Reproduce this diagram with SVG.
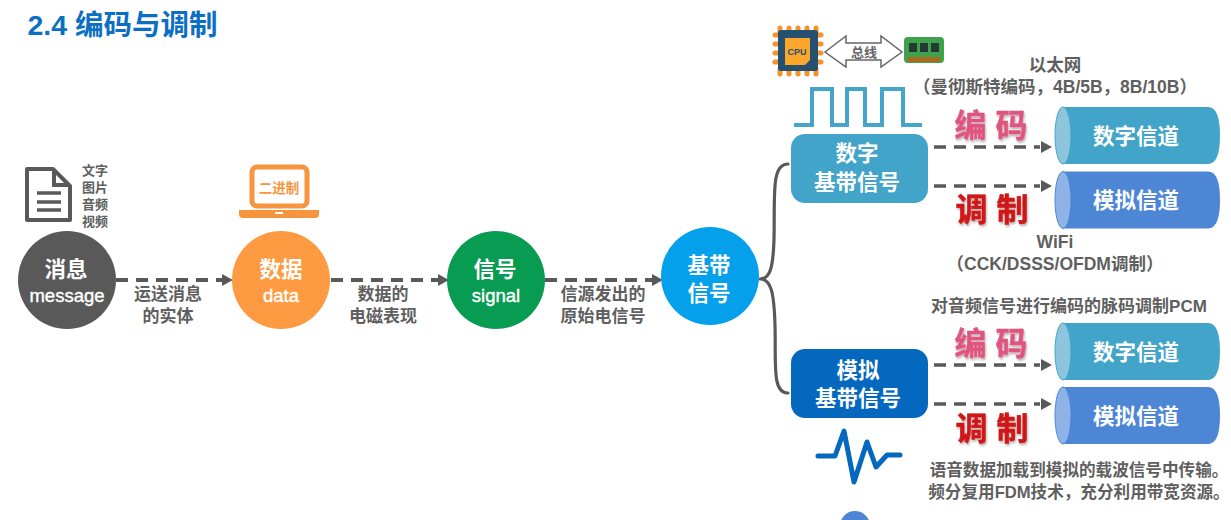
<svg xmlns="http://www.w3.org/2000/svg" width="1231" height="520" viewBox="0 0 1231 520">
<style>
text{font-family:"Liberation Sans","Noto Sans CJK SC",sans-serif;text-anchor:middle;font-weight:700}
.cap{fill:#5f5f5f;font-size:17px}
.note{fill:#5f5f5f;font-size:17.5px}
.note2{fill:#5f5f5f;font-size:17px}
.note3{fill:#5f5f5f;font-size:16.6px}
.small{fill:#5f5f5f;font-size:13px}
.w22{fill:#fff;font-size:21.5px}
.latin{fill:#fff;font-size:18.5px;font-weight:400;stroke:#fff;stroke-width:.4}
.flow{fill:none;stroke:#595959;stroke-width:4;stroke-dasharray:12 8}
.branch{fill:none;stroke:#595959;stroke-width:3.2;stroke-linecap:round}
.enc{fill:#e0557f;font-size:32px;font-weight:700;stroke:#e0557f;stroke-width:.5}
.mod{fill:#d01515;font-size:32px;font-weight:700;stroke:#d01515;stroke-width:.5}
.hd{fill:#595959}
</style>
<defs>
<filter id="soft" x="-10%" y="-10%" width="125%" height="130%"><feDropShadow dx="1" dy="2" stdDeviation="1.2" flood-color="#000" flood-opacity=".3"/></filter>
<path id="tube" d="M1063 0H1208Q1220 0 1220 28.500Q1220 57 1208 57H1063Z"/>
</defs>
<rect width="1231" height="520" fill="#fff"/>
<text x="122.500" y="35" style="font-size:28.500px;fill:#0b6fc4">2.4 编码与调制</text>

<g id="connectors">
<path class="flow" d="M116 280H222M331 280H438M545 280H652"/>
<path class="hd" d="M222 274l11 6-11 6zM438 274l11 6-11 6zM652 274l11 6-11 6z"/>
<path class="branch" d="M760 279C770 279 773 268 774 240C775 195 771 164 788 164M760 279C771 279 774 292 775 325C776 365 772 393 788 393"/>
<path class="flow" style="stroke-width:3.500" d="M934 147H1040M934 186H1040M934 365H1040M934 404H1040"/>
<path class="hd" d="M1041 141l11 6-11 6zM1041 180l11 6-11 6zM1041 359l11 6-11 6zM1041 398l11 6-11 6z"/>
</g>

<g id="doc-icon">
<path d="M27 169H53L70 186V220H27Z" fill="#fff" stroke="#595959" stroke-width="4" stroke-linejoin="round"/>
<path d="M54 170V185H69" fill="none" stroke="#595959" stroke-width="4"/>
<path d="M37 193H61M37 202H61M37 210H61" stroke="#595959" stroke-width="3.500"/>
</g>
<g id="media-list">
<text class="small" x="95" y="175">文字</text>
<text class="small" x="95" y="192">图片</text>
<text class="small" x="95" y="209">音频</text>
<text class="small" x="95" y="226">视频</text>
</g>
<g id="node-message">
<circle cx="67" cy="280" r="49" fill="#595959"/>
<text class="w22" x="66" y="277">消息</text>
<text class="latin" x="67" y="302">message</text>
</g>
<g id="laptop-icon">
<rect x="252" y="167" width="55" height="39" rx="5" fill="#fff" stroke="#f7943e" stroke-width="5"/>
<path d="M239 210H319V214Q319 218 315 218H243Q239 218 239 214Z" fill="#f7943e"/>
<rect x="275" y="212" width="8" height="2" fill="#fff"/>
<text x="279" y="193" style="font-size:13.500px;fill:#f7943e">二进制</text>
</g>
<g id="node-data">
<circle cx="281" cy="280" r="49" fill="#fe9a41"/>
<text class="w22" x="281" y="277">数据</text>
<text class="latin" x="281" y="302">data</text>
</g>
<g id="node-signal">
<circle cx="496" cy="280" r="49" fill="#089b52"/>
<text class="w22" x="495" y="277">信号</text>
<text class="latin" x="496" y="302">signal</text>
</g>
<g id="node-baseband">
<circle cx="710" cy="276" r="49" fill="#05a0ec"/>
<text class="w22" x="709" y="273">基带</text>
<text class="w22" x="709" y="301">信号</text>
</g>
<g id="flow-labels">
<text class="cap" x="168" y="300">运送消息</text>
<text class="cap" x="168" y="322">的实体</text>
<text class="cap" x="383" y="300">数据的</text>
<text class="cap" x="383" y="322">电磁表现</text>
<text class="cap" x="603" y="300">信源发出的</text>
<text class="cap" x="603" y="322">原始电信号</text>
</g>

<g id="bus-icons">
<path d="M780 28v5M789 28v5M798 28v5M807 28v5M816 28v5M780 69v5M789 69v5M798 69v5M807 69v5M816 69v5M775 35h5M775 44h5M775 53h5M775 62h5M816 35h5M816 44h5M816 53h5M816 62h5" stroke="#f5932a" stroke-width="5" stroke-linecap="round"/>
<rect x="778" y="30" width="40" height="41" rx="3" fill="#25506f"/>
<path d="M785 38H810V60L805 65H785Z" fill="#fca62c"/>
<text x="797" y="55" style="font-size:9px;fill:#25506f">CPU</text>
<path d="M825 52L846 36V43H881V36L902 52L881 67V60H846V67Z" fill="#fff" stroke="#666" stroke-width="1.500"/>
<text x="864" y="57" style="font-size:13px;fill:#666">总线</text>
<rect x="904" y="37" width="40" height="26" rx="4" fill="#3fa34d"/>
<path d="M909 43h8v9h-8zM920 43h8v9h-8zM931 43h8v9h-8z" fill="#263a33"/>
<path d="M908 57H940V62H908Z" fill="#a86c20"/>
</g>
<g id="square-wave">
<path d="M794 125H812V89H832V125H847V89H865V125H882V89H903V125H922" fill="none" stroke="#45a4ca" stroke-width="4"/>
</g>
<g id="node-digital-baseband">
<rect x="791" y="134" width="137" height="69" rx="14" fill="#42a4c9"/>
<text class="w22" x="857" y="161">数字</text>
<text class="w22" x="857" y="190">基带信号</text>
</g>
<g id="node-analog-baseband">
<rect x="791" y="349" width="137" height="69" rx="14" fill="#0568bf"/>
<text class="w22" x="858" y="378">模拟</text>
<text class="w22" x="858" y="406">基带信号</text>
</g>
<g id="analog-wave">
<path d="M818 456H835L844 431L854 482L867 442L876 467L887 455H900" fill="none" stroke="#0568bf" stroke-width="5" stroke-linejoin="round" stroke-linecap="round"/>
</g>

<g id="top-notes">
<text class="note" x="1055" y="71">以太网</text>
<text class="note" x="1055" y="93">（曼彻斯特编码，4B/5B，8B/10B）</text>
<text class="enc" x="991" y="137" filter="url(#soft)">编 码</text>
<text class="mod" x="992" y="221" filter="url(#soft)">调 制</text>
<text class="note" x="1055" y="248">WiFi</text>
<text class="note" x="1055" y="270">（CCK/DSSS/OFDM调制）</text>
</g>
<g id="bottom-notes">
<text class="note2" x="1069" y="312">对音频信号进行编码的脉码调制PCM</text>
<text class="enc" x="991" y="355" filter="url(#soft)">编 码</text>
<text class="mod" x="992" y="440" filter="url(#soft)">调 制</text>
<text class="note3" x="1079" y="476">语音数据加载到模拟的载波信号中传输。</text>
<text class="note3" x="1079" y="498">频分复用FDM技术，充分利用带宽资源。</text>
</g>

<g id="channel-digital-top">
<use href="#tube" y="107" fill="#42a4c9"/>
<ellipse cx="1063" cy="135.500" rx="8" ry="28.500" fill="#8cc5dc" stroke="#42a4c9"/>
<text class="w22" x="1136" y="144">数字信道</text>
</g>
<g id="channel-analog-top">
<use href="#tube" y="171.500" fill="#4c86d5"/>
<ellipse cx="1063" cy="200" rx="8" ry="28.500" fill="#8fb3e6" stroke="#4c86d5"/>
<text class="w22" x="1136" y="208">模拟信道</text>
</g>
<g id="channel-digital-bottom">
<use href="#tube" y="323" fill="#42a4c9"/>
<ellipse cx="1063" cy="351.500" rx="8" ry="28.500" fill="#8cc5dc" stroke="#42a4c9"/>
<text class="w22" x="1136" y="360">数字信道</text>
</g>
<g id="channel-analog-bottom">
<use href="#tube" y="387" fill="#4c86d5"/>
<ellipse cx="1063" cy="415.500" rx="8" ry="28.500" fill="#8fb3e6" stroke="#4c86d5"/>
<text class="w22" x="1136" y="424">模拟信道</text>
</g>
<circle cx="855" cy="526" r="15" fill="#4c86d5"/>
</svg>
